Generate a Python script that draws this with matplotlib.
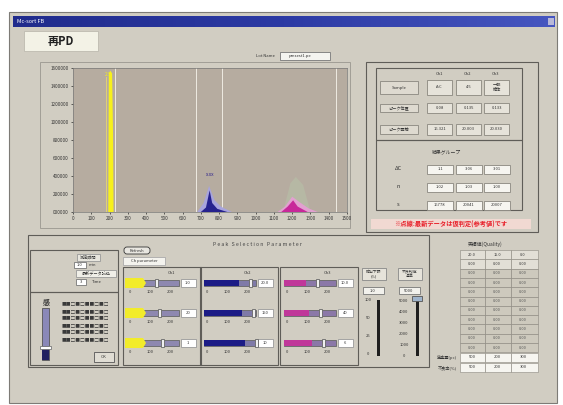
import numpy as np
import matplotlib
matplotlib.use("Agg")
import matplotlib.pyplot as plt
from matplotlib.patches import Rectangle, FancyBboxPatch, Polygon

plt.rcParams['font.family'] = ['Noto Sans CJK JP', 'DejaVu Sans']

# ---- chart data ----
x_ticks = list(range(0, 1600, 100))
y_ticks = [0, 200000, 400000, 600000, 800000, 1000000, 1200000, 1400000, 1600000]
y_labels = ["000000", "200000", "400000", "600000", "800000", "1000000", "1200000", "1400000", "1600000"]

yellow_x = [193, 196, 204, 214, 219, 222]
yellow_y = [0, 1540000, 1570000, 1540000, 900000, 0]
blue_halo_x = [680, 715, 745, 775, 810, 870]
blue_halo_y = [0, 100000, 290000, 130000, 60000, 0]
blue_x = [700, 728, 748, 762, 790, 845]
blue_y = [0, 50000, 240000, 100000, 35000, 0]
pink_halo_x = [1120, 1160, 1200, 1240, 1290, 1340]
pink_halo_y = [0, 60000, 170000, 110000, 40000, 0]
pink_x = [1140, 1175, 1205, 1230, 1285]
pink_y = [0, 60000, 130000, 60000, 0]
green_x = [1150, 1190, 1220, 1260, 1300]
green_y = [0, 320000, 390000, 300000, 0]
window_lines = [230, 675, 815, 1440]

# ---- table texts ----
ch_names = ["Ch1", "Ch2", "Ch3"]
row_names = ["Sample", "ピーク位置", "ピーク面積"]
top_cells = [["A-C", "4.5", "一般\n検体"], ["0.08", "0.135", "0.133"], ["16.321", "20.003", "20.030"]]
res_names = ["ΔC", "n", "s"]
res_cells = [["1.1", "3.06", "3.01"], ["1.02", "1.03", "1.00"], ["16778", "20041", "20007"]]

BG = "#d1cdc2"

fig = plt.figure(figsize=(5.63, 4.05), dpi=100)
fig.patch.set_facecolor("white")
ui = fig.add_axes([0, 0, 1, 1])
ui.set_xlim(0, 563)
ui.set_ylim(405, 0)
ui.axis("off")


def rect(x, y, w, h, fc="none", ec="#8a877f", lw=0.6, z=1):
    ui.add_patch(Rectangle((x, y), w, h, facecolor=fc, edgecolor=ec, lw=lw, zorder=z))


def txt(x, y, s, size=3.5, c="#333333", ha="center", **kw):
    ui.text(x, y, s, fontsize=size, color=c, ha=ha, va="center", zorder=5, **kw)


# window
rect(9, 12, 548, 391, fc=BG, ec="#7d7b76", lw=0.8)
grad = np.linspace(0, 1, 200).reshape(1, -1)
ui.imshow(grad, extent=(13, 555, 27, 16), cmap=matplotlib.colors.LinearSegmentedColormap.from_list(
    "tb", ["#202b8c", "#2c3aa4", "#4656c0"]), aspect="auto", zorder=2)
txt(17, 21.5, "Mc-sort FB", size=4, c="white", ha="left")
rect(548, 18, 6, 7, fc="#b8b8d8", ec="none", z=3)

# 再PD label
rect(24, 31, 74, 20, fc="#f3f2e6", ec="#bdbab0")
txt(61, 41, "再PD", size=8, c="#222222", weight="bold")

# lot name
txt(265, 56, "Lot Name", size=3)
rect(280, 52, 50, 8, fc="#f4f4f0", ec="#777")
txt(300, 56, "pmsest1.pe", size=3)

# chart panel frame
rect(40, 62, 310, 166, ec="#9a978f")

# right result panel
rect(366, 62, 172, 170, ec="#5f5d58", lw=0.8)
rect(376, 68, 146, 72, ec="#5f5d58", lw=0.8)
rect(376, 140, 146, 70, ec="#5f5d58", lw=0.8)
col_x = [427, 456, 484]
for j, n in enumerate(ch_names):
    txt(col_x[j] + 12, 74, n, size=3)
row_y = [(80, 15), (103, 10), (124, 11)]
for i, n in enumerate(row_names):
    ry, rh = row_y[i]
    rect(380, ry + 1, 38, rh - 2, fc="#dedad0", ec="#8a877f")
    txt(399, ry + rh / 2, n, size=3)
    for j in range(3):
        rect(col_x[j], ry, 25, rh, fc="#e6e3da", ec="#8a877f")
        txt(col_x[j] + 12.5, ry + rh / 2, top_cells[i][j], size=3)
txt(446, 152, "結果グループ", size=3.5)
for i, n in enumerate(res_names):
    ry = 165 + i * 18
    txt(398, ry + 4, n, size=4)
    for j in range(3):
        rect(col_x[j], ry, 26, 9, fc="#f6f5f0", ec="#8a877f")
        txt(col_x[j] + 13, ry + 4.5, res_cells[i][j], size=3)
ui.add_patch(Rectangle((371, 219), 160, 10, facecolor="#f1d9d2", edgecolor="none", zorder=1))
txt(451, 224, "※点線:最新データは仮判定(参考値)です", size=4.5, c="#e8202a", weight="bold")

# peak selection panel
rect(28, 235, 401, 132, ec="#5f5d58", lw=0.8)
txt(257, 244, "P e a k   S e l e c t i o n   P a r a m e t e r", size=3.8, c="#444")
rect(30, 250, 88, 42, ec="#5f5d58", lw=0.8)
rect(30, 292, 88, 73, ec="#5f5d58", lw=0.8)
rect(77, 254, 23, 7, fc="#e8e6de", ec="#999")
txt(88, 257.5, "測定時間", size=3)
rect(74, 262, 12, 6, fc="white", ec="#777")
txt(80, 265, "1.0", size=3)
txt(92, 265, "min", size=3)
rect(76, 270, 40, 7, fc="#f0efe8", ec="#999")
txt(96, 273.5, "最新データ読込", size=3)
rect(76, 279, 10, 6, fc="white", ec="#777")
txt(81, 282, "3", size=3)
txt(97, 282, "Time", size=3)
# vertical slider in info box
txt(46, 302, "感", size=5, weight="bold")
rect(42, 308, 7, 52, fc="#8a88b8", ec="#555")
rect(42, 346, 7, 14, fc="#202060", ec="none", z=2)
rect(40, 346, 11, 3, fc="white", ec="#777", z=3)
for k in range(6):
    txt(85, 305 + k * 7, "■■□■□■■□■□", size=3.4, c="#3a3a3a")
rect(94, 352, 20, 10, fc="#e0ddd4", ec="#555")
txt(104, 357, "OK", size=3)

# refresh button + combo
ui.add_patch(FancyBboxPatch((124, 247), 26, 7, boxstyle="round,pad=0,rounding_size=3",
                            facecolor="#e8e6e0", edgecolor="#333", lw=0.6, zorder=2))
txt(137, 250.5, "Refresh", size=3)
rect(123, 257, 42, 8, fc="#f4f3ee", ec="#aaa")
txt(144, 261, "Ch parameter", size=3)

# colour groups with sliders
groups = [(123, "#f2ec2a", "#8e88b0"), (200, "#1c1c86", "#7f7aa8"), (280, "#c0389a", "#8b78a8")]
vals = [["1.0", "20", "1"], ["20.0", "150", "10"], ["10.0", "40", "6"]]
for g, (gx, col, rest) in enumerate(groups):
    rect(gx, 267, 78, 98, ec="#5f5d58", lw=0.8)
    txt(gx + 48, 273, "Ch%d" % (g + 1), size=3)
    for r in range(3):
        sy = 283 + r * 30
        rect(gx + 4, sy - 3, 52, 6, fc=rest, ec="#666")
        cut = [18, 35, 22][g] + r * 3
        if g == 0:
            ui.add_patch(Polygon([[gx + 2, sy - 5], [gx + 20, sy - 5], [gx + 23, sy], [gx + 20, sy + 5],
                                  [gx + 2, sy + 5]], closed=True, facecolor=col, edgecolor="none", zorder=2))
        else:
            rect(gx + 4, sy - 3, cut, 6, fc=col, ec="none", z=2)
        rect(gx + 4 + cut + 10, sy - 4, 2.5, 8, fc="#f0f0f0", ec="#666", z=3)
        rect(gx + 58, sy - 4, 15, 8, fc="white", ec="#999")
        txt(gx + 65, sy, vals[g][r], size=3)
        for k, lab in enumerate(["0", "100", "200"]):
            txt(gx + 7 + k * 20, sy + 9, lab, size=3)

# two vertical sliders
for sx, lab, v in [(362, "検出下限\n(%)", "1.0"), (398, "不良判定\n基準", "5000")]:
    rect(sx, 268, 24, 12, fc="#e6e3da", ec="#888")
    txt(sx + 12, 274, lab, size=2.8)
    rect(sx + 1, 287, 21, 7, fc="#f2f1ec", ec="#777")
    txt(sx + 11, 290.5, v, size=3)
rect(377, 300, 3, 56, fc="#1f1f1f", ec="none")
for k, lab in enumerate(["100", "50", "25", "0"]):
    txt(368, 300 + k * 18, lab, size=3)
rect(416, 300, 3, 56, fc="#1f1f1f", ec="none")
rect(412, 296, 10, 5, fc="#9fb4cc", ec="#555", z=3)
for k, lab in enumerate(["5000", "4000", "3000", "2000", "1000", "0"]):
    txt(404, 301 + k * 11, lab, size=3)

# quality table on the right
txt(485, 244, "実績値(Quality)", size=3.5)
tcols = [460, 485, 511]
for r in range(11):
    ty = 250 + r * 9.3
    fc = "#e2dfd6" if r < 2 else "#cdc9bd"
    for j in range(3):
        rect(tcols[j], ty, [25, 26, 27][j], 9.3, fc=fc, ec="#8a877f", lw=0.4)
        txt(tcols[j] + 12, ty + 4.6, ["20.0", "15.0", "0.0"][j] if r == 0 else "0.00", size=2.8,
            c="#555" if r > 1 else "#333")
for r, lab in enumerate(["生産量(pc)", "不良率(%)"]):
    ty = 353 + r * 10
    txt(457, ty + 4.5, lab, size=3, ha="right")
    for j in range(3):
        rect(tcols[j], ty, [25, 26, 27][j], 9, fc="#f6f5f0", ec="#8a877f", lw=0.4)
        txt(tcols[j] + 12, ty + 4.5, ["500", "200", "300"][j], size=3)

# ---- the chart ----
ax = fig.add_axes([73 / 563, 1 - 212 / 405, 274 / 563, 144 / 405])
ax.set_facecolor("#b6aca0")
ax.set_xlim(0, 1500)
ax.set_ylim(0, 1600000)
for wl in window_lines:
    ax.axvline(wl, color="#eeeae2", lw=0.7, zorder=1)
ax.fill(green_x, green_y, color="#b8d4ae", alpha=0.3, lw=0, zorder=2)
ax.fill(yellow_x, yellow_y, color="#f7f01c", lw=0, zorder=3)
ax.plot([182, 182], [0, 1500000], color="#e8d870", lw=0.6, zorder=3)
ax.fill(blue_halo_x, blue_halo_y, color="#a8a4dc", lw=0, zorder=3)
ax.fill(blue_x, blue_y, color="#26228e", lw=0, zorder=4)
ax.fill(pink_halo_x, pink_halo_y, color="#e2a0d0", lw=0, zorder=3)
ax.fill(pink_x, pink_y, color="#c8289a", lw=0, zorder=4)
ax.text(195, 1530000, "2.5", fontsize=3.5, color="#f7f01c", ha="center", va="center")
ax.text(752, 420000, "x.xx", fontsize=3.5, color="#3a2e8e", ha="center", va="center")
ax.set_xticks(x_ticks)
ax.set_xticklabels([str(t) for t in x_ticks], fontsize=3.3, color="#333")
ax.set_yticks(y_ticks)
ax.set_yticklabels(y_labels, fontsize=3.3, color="#333")
ax.tick_params(length=1.5, width=0.4, pad=1.5)
for s in ax.spines.values():
    s.set_linewidth(0.5)
    s.set_color("#777")

fig.savefig("out.png", dpi=100, facecolor="white")
